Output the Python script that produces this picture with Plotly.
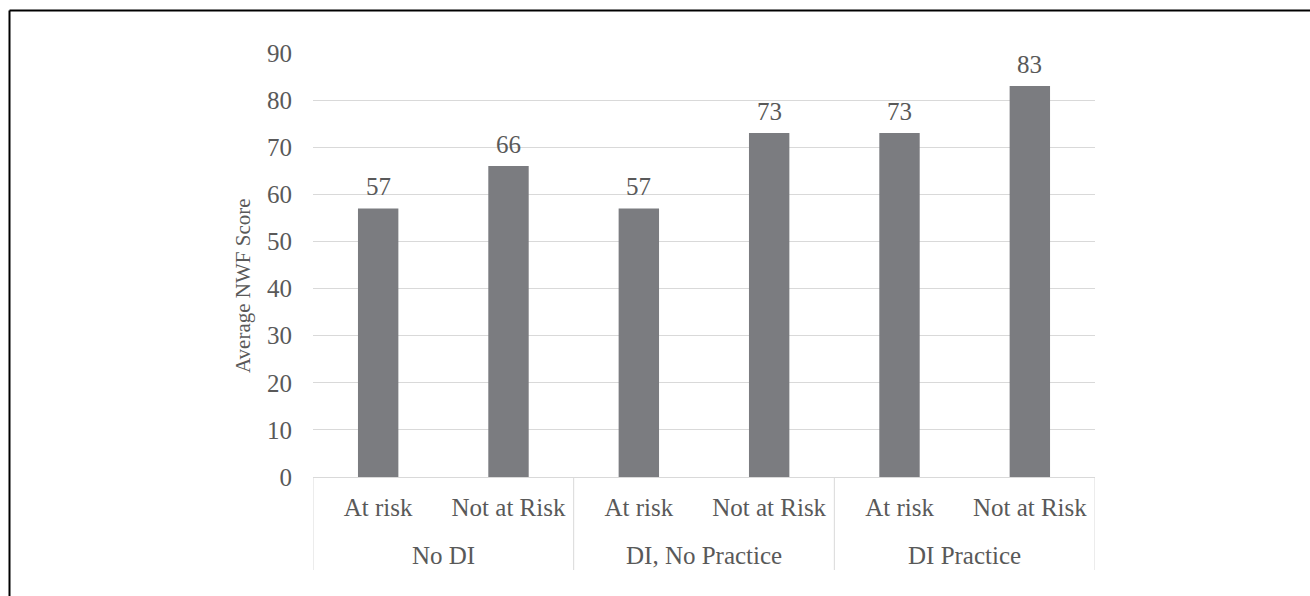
import plotly.graph_objects as go

groups = ["No DI", "DI, No Practice", "DI Practice"]
risk = ["At risk", "Not at Risk", "At risk", "Not at Risk", "At risk", "Not at Risk"]
scores = [57, 66, 57, 73, 73, 83]
y_ticks = [0, 10, 20, 30, 40, 50, 60, 70, 80, 90]

FONT = "Liberation Serif, Times New Roman, serif"
TXT = "#595959"
GRID = "#d9d9d9"
BAR = "#7b7c80"
FS = 25

idx = list(range(len(risk)))

fig = go.Figure()
fig.add_trace(go.Bar(x=idx, y=scores, width=0.31, marker=dict(color=BAR, line=dict(width=0)),
                     hoverinfo="skip"))

for i, v in zip(idx, scores):
    fig.add_annotation(x=i, y=v, text=str(v), showarrow=False, yanchor="bottom",
                       yshift=6, font=dict(family=FONT, size=FS, color=TXT))

W, H = 1310, 596
L, R, T, B = 313, 215, 53, 119
pw, ph = W - L - R, H - T - B

def px_x(p):
    return (p - L) / pw

def px_y(p):
    return (H - B - p) / ph

# group labels and dividers
for gi, g in enumerate(groups):
    fig.add_annotation(x=gi * 2 + 0.5, y=0, yref="y", text=g, showarrow=False, yanchor="middle",
                       yshift=-78, font=dict(family=FONT, size=FS, color=TXT))
for xb in [-0.5, 1.5, 3.5, 5.5]:
    fig.add_shape(type="line", xref="x", yref="paper", x0=xb, x1=xb, y0=0, y1=px_y(570),
                  line=dict(color=GRID, width=1))

# y-axis title
fig.add_annotation(xref="paper", yref="paper", x=px_x(243), y=px_y(286), text="Average NWF Score",
                   textangle=-90, showarrow=False, xanchor="center", yanchor="middle",
                   font=dict(family=FONT, size=21, color=TXT))

fig.add_shape(type="line", xref="paper", yref="paper", x0=px_x(9.5), x1=px_x(1310), y0=px_y(10.5), y1=px_y(10.5),
              line=dict(color="black", width=2))
fig.add_shape(type="line", xref="paper", yref="paper", x0=px_x(9.5), x1=px_x(9.5), y0=px_y(10.5), y1=px_y(596),
              line=dict(color="black", width=2))

fig.update_layout(
    width=W, height=H,
    margin=dict(l=L, r=R, t=T, b=B),
    paper_bgcolor="white", plot_bgcolor="white",
    showlegend=False,
    font=dict(family=FONT, size=FS, color=TXT),
    xaxis=dict(range=[-0.5, 5.5], tickvals=idx, ticktext=risk, showline=True, linecolor=GRID, linewidth=1,
               showgrid=False, zeroline=False, ticks="", ticklabelstandoff=8,
               tickfont=dict(family=FONT, size=FS, color=TXT)),
    yaxis=dict(range=[0, 90], tickvals=y_ticks, showgrid=True, gridcolor=GRID, gridwidth=1,
               zeroline=False, showline=False, ticks="", ticklabelstandoff=20,
               tickfont=dict(family=FONT, size=FS, color=TXT)),
)

fig.write_html("out.html")
